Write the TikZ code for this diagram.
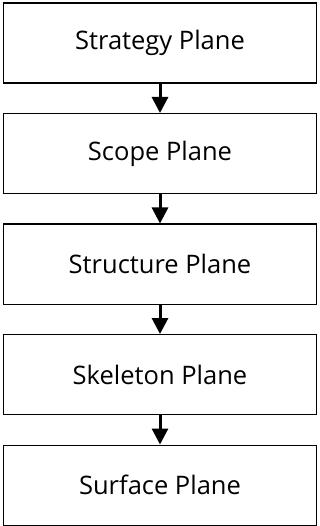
\documentclass[tikz,border=0pt]{standalone}
\usepackage{fontspec}
\setmainfont{Open Sans}
\usetikzlibrary{arrows.meta}
\begin{document}
\begin{tikzpicture}[x=1pt,y=1pt,
  plane/.style={draw=black, line width=1.3pt, minimum width=313pt, minimum height=80pt, inner sep=0pt, font=\fontsize{25.5}{30}\selectfont, anchor=north},
  link/.style={line width=3pt, -{Triangle[width=16pt,length=16pt]}}]
\useasboundingbox (0,0) rectangle (320,-526);
\node[plane] (a) at (160,-2.5) {Strategy Plane};
\node[plane] (b) at (160,-113) {Scope Plane};
\node[plane] (c) at (160,-223.5) {Structure Plane};
\node[plane] (d) at (160,-334) {Skeleton Plane};
\node[plane] (e) at (160,-444.5) {Surface Plane};
\draw[link] (a.south) -- (b.north);
\draw[link] (b.south) -- (c.north);
\draw[link] (c.south) -- (d.north);
\draw[link] (d.south) -- (e.north);
\end{tikzpicture}
\end{document}
